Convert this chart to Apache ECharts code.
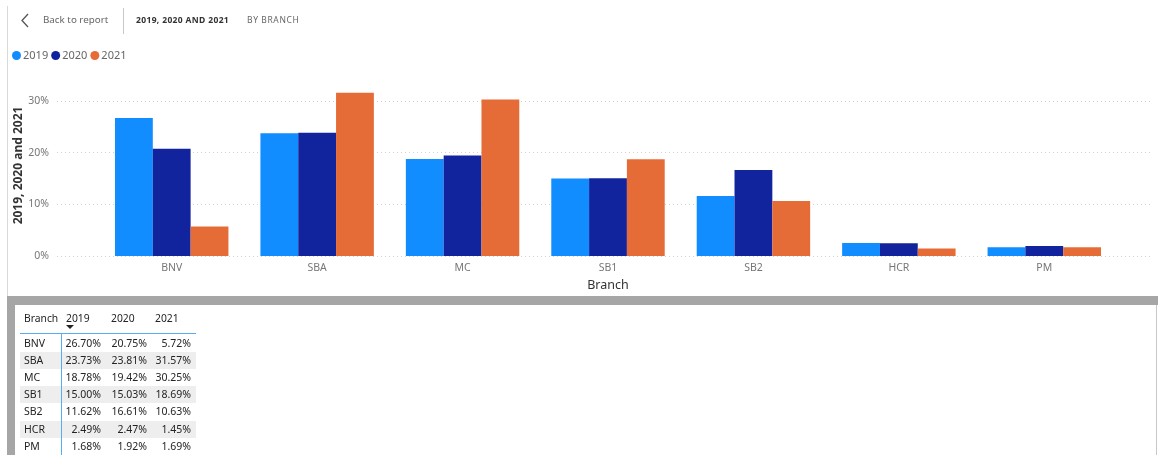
<!DOCTYPE html>
<html><head><meta charset="utf-8">
<script src="https://cdn.jsdelivr.net/npm/echarts@6/dist/echarts.min.js"></script>
<style>
html,body{margin:0;padding:0;background:#fff;width:1158px;height:455px;overflow:hidden;font-family:"Noto Sans","Open Sans",sans-serif;}
#chart{position:absolute;left:0;top:0;width:1158px;height:296px;}
.abs{position:absolute;white-space:nowrap;}
#tbl div{position:absolute;white-space:nowrap;font-size:10.5px;color:#252423;}
</style></head>
<body>
<div id="chart"></div>
<div class="abs" style="left:7px;top:6px;width:1px;height:291px;background:#d9d9d9"></div>
<svg class="abs" style="left:20px;top:12px" width="12" height="18"><polyline points="8,2 2,8.5 8,15" fill="none" stroke="#555" stroke-width="1.3"/></svg>
<div class="abs" style="left:43px;top:13px;font-size:9.8px;color:#666;">Back to report</div>
<div class="abs" style="left:123px;top:8px;width:1px;height:26px;background:#c8c8c8"></div>
<div class="abs" style="left:136px;top:14px;font-size:8.5px;font-weight:bold;letter-spacing:0.35px;color:#333;">2019, 2020 AND 2021</div>
<div class="abs" style="left:247px;top:14px;font-size:8.5px;letter-spacing:0.6px;color:#666;">BY BRANCH</div>
<div class="abs" style="left:7px;top:296px;width:1151px;height:9px;background:#a6a6a6"></div>
<div class="abs" style="left:7px;top:296px;width:8px;height:159px;background:#a6a6a6"></div>
<div class="abs" style="left:1156px;top:305px;width:1px;height:150px;background:#c8c8c8"></div>
<div id="tbl"></div>
<script>
var categories = ["BNV", "SBA", "MC", "SB1", "SB2", "HCR", "PM"];
var seriesNames = ["2019", "2020", "2021"];
var values2019 = [26.70, 23.73, 18.78, 15.00, 11.62, 2.49, 1.68];
var values2020 = [20.75, 23.81, 19.42, 15.03, 16.61, 2.47, 1.92];
var values2021 = [5.72, 31.57, 30.25, 18.69, 10.63, 1.45, 1.69];
var colors = ["#118DFF", "#12239E", "#E66C37"];
var yTicks = [0, 10, 20, 30];

var font = '"Noto Sans","Open Sans",sans-serif';
var chart = echarts.init(document.getElementById('chart'), null, {renderer: 'canvas'});
var allValues = [values2019, values2020, values2021];
var series = seriesNames.map(function (n, i) {
  return {
    name: n, type: 'bar', data: allValues[i], xAxisIndex: 0, yAxisIndex: 0,
    itemStyle: {color: colors[i]}, barGap: '0%', barCategoryGap: '22%'
  };
});
chart.setOption({
  animation: false,
  textStyle: {fontFamily: font},
  legend: {
    data: seriesNames.map(function (n, i) { return {name: n, itemStyle: {color: colors[i]}}; }),
    left: 7, top: 45, icon: 'circle', itemWidth: 9, itemHeight: 9, itemGap: 3,
    textStyle: {fontSize: 11, color: '#666', fontFamily: font, padding: [0, 0, 0, -3]}
  },
  grid: [
    {left: 99, right: 41, top: 75, bottom: 40, outerBoundsMode: 'none', containLabel: false},
    {left: 57, right: 5, top: 101, bottom: 40, outerBoundsMode: 'none', containLabel: false}
  ],
  xAxis: [
    {type: 'category', gridIndex: 0, data: categories,
     axisLine: {show: false}, axisTick: {show: false},
     axisLabel: {color: '#777', fontSize: 10.5, margin: 7},
     name: 'Branch', nameLocation: 'middle', nameGap: 23,
     nameTextStyle: {color: '#333', fontSize: 12.5}},
    {type: 'value', gridIndex: 1, min: 0, max: 1, show: false}
  ],
  yAxis: [
    {type: 'value', gridIndex: 0, min: 0, max: 35,
     axisLabel: {show: false}, splitLine: {show: false}, axisLine: {show: false}, axisTick: {show: false},
     name: '2019, 2020 and 2021', nameLocation: 'middle', nameGap: 74,
     nameTextStyle: {color: '#333', fontSize: 12, fontWeight: 'bold'}},
    {type: 'value', gridIndex: 1, min: yTicks[0], max: yTicks[yTicks.length - 1], interval: 10,
     axisLine: {show: false}, axisTick: {show: false},
     axisLabel: {color: '#777', fontSize: 10.5, margin: 8, formatter: '{value}%'},
     splitLine: {lineStyle: {color: '#d0d0d0', type: [1, 3]}}}
  ],
  series: series
});

// table
var tbl = document.getElementById('tbl');
var rowTop = 335, rowH = 17.1;
function cell(text, left, top, opts) {
  var d = document.createElement('div');
  d.textContent = text;
  d.style.top = top + 'px';
  d.style.lineHeight = rowH + 'px';
  if (opts && opts.right != null) { d.style.right = (1158 - opts.right) + 'px'; }
  else { d.style.left = left + 'px'; }
  if (opts && opts.size) d.style.fontSize = opts.size;
  tbl.appendChild(d);
}
categories.forEach(function (c, r) {
  if (r % 2 === 1) {
    var bg = document.createElement('div');
    bg.style.left = '20px'; bg.style.top = (rowTop + r * rowH) + 'px';
    bg.style.width = '176px'; bg.style.height = rowH + 'px'; bg.style.background = '#eeeeee';
    tbl.appendChild(bg);
  }
});
cell('Branch', 24, 309.5, {size: '10.3px'});
cell(seriesNames[0], 66, 309.5, {size: '10.3px'});
cell(seriesNames[1], 111, 309.5, {size: '10.3px'});
cell(seriesNames[2], 155, 309.5, {size: '10.3px'});
var arrow = document.createElement('div');
arrow.style.left = '66px'; arrow.style.top = '325px'; arrow.style.width = '0'; arrow.style.height = '0';
arrow.style.borderLeft = '4px solid transparent'; arrow.style.borderRight = '4px solid transparent';
arrow.style.borderTop = '4px solid #252423';
tbl.appendChild(arrow);
var hl = document.createElement('div');
hl.style.left = '20px'; hl.style.top = '333px'; hl.style.width = '176px'; hl.style.height = '1px'; hl.style.background = '#5aacf2';
tbl.appendChild(hl);
var vl = document.createElement('div');
vl.style.left = '61px'; vl.style.top = '333px'; vl.style.width = '1px'; vl.style.height = '122px'; vl.style.background = '#5aacf2';
tbl.appendChild(vl);
var rights = [101, 147, 191];
categories.forEach(function (c, r) {
  var top = rowTop + r * rowH;
  cell(c, 24, top);
  allValues.forEach(function (arr, k) {
    cell(arr[r].toFixed(2) + '%', 0, top, {right: rights[k]});
  });
});
</script>
</body></html>
